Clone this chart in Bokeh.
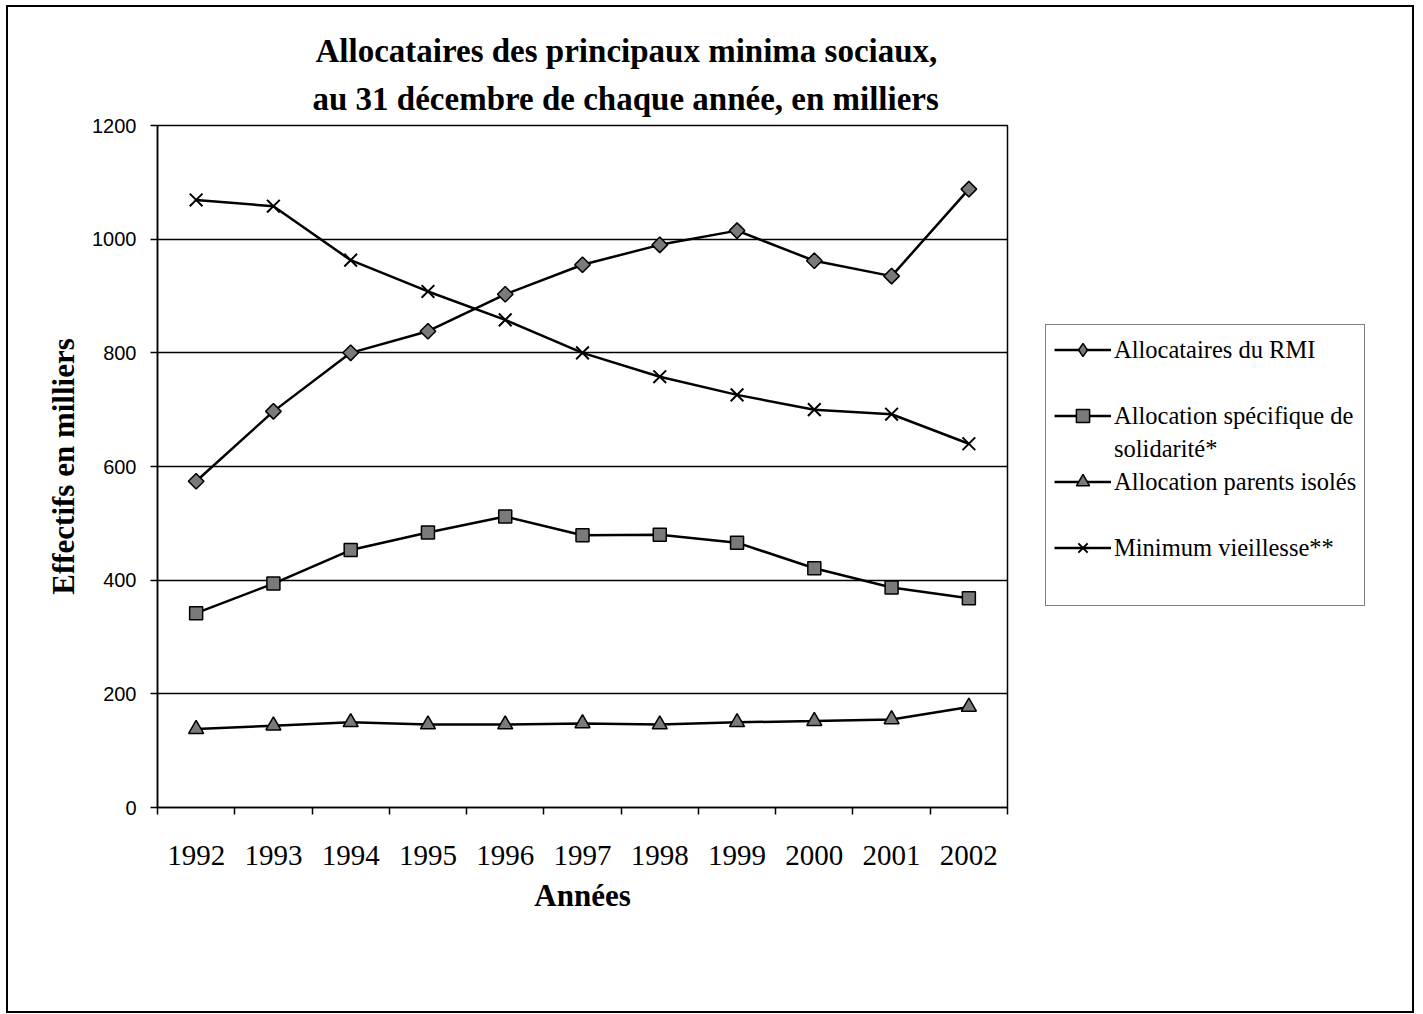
from bokeh.plotting import figure
from bokeh.models import (Range1d, FixedTicker, Legend, LegendItem, Title)
from bokeh.layouts import row
from bokeh.embed import file_html
from bokeh.resources import INLINE
import math

years = [1992, 1993, 1994, 1995, 1996, 1997, 1998, 1999, 2000, 2001, 2002]
rmi = [574, 697, 800, 838, 903, 955, 990, 1015, 962, 935, 1088]
ass = [342, 394, 453, 484, 512, 479, 480, 466, 421, 387, 368]
api = [138, 144, 150, 146, 146, 148, 146, 150, 152, 155, 177]
mv = [1069, 1058, 963, 908, 858, 800, 758, 726, 700, 692, 640]
y_ticks = [0, 200, 400, 600, 800, 1000, 1200]

SERIF = "Liberation Serif"
SANS = "Liberation Sans"

H = 1004
W_MAIN, W_LEG = 1002, 402
p = figure(width=W_MAIN, height=H, output_backend="svg", toolbar_location=None,
           x_range=Range1d(years[0] - 0.5, years[-1] + 0.5),
           y_range=Range1d(0, 1200),
           min_border_left=149, min_border_right=3,
           min_border_top=118, min_border_bottom=204)
p.background_fill_color = "white"
p.border_fill_color = "white"
p.outline_line_color = "black"
p.outline_line_width = 1.5

# title, two lines
p.title.text = "Allocataires des principaux minima sociaux,"
p.title.align = "left"
p.title.offset = 158
p.title.text_font = SERIF
p.title.text_font_style = "bold"
p.title.text_font_size = "33px"
p.title.text_color = "black"
p.title.standoff = 2
t2 = Title(text="au 31 décembre de chaque année, en milliers", align="left",
           offset=155, text_font=SERIF, text_font_style="bold",
           text_font_size="33px", text_color="black", standoff=18)
p.add_layout(t2, "above")

# axes
p.xaxis.ticker = FixedTicker(ticks=years,
                             minor_ticks=[y - 0.5 for y in years] + [years[-1] + 0.5])
p.xaxis.major_label_overrides = {y: str(y) for y in years}
p.xaxis.major_tick_line_color = None
p.xaxis.major_tick_out = 7
p.xaxis.major_tick_in = 0
p.xaxis.minor_tick_line_color = "black"
p.xaxis.minor_tick_out = 7
p.xaxis.minor_tick_in = 0
p.xaxis.minor_tick_line_width = 1.5
p.xaxis.major_label_text_font = SERIF
p.xaxis.major_label_text_font_size = "29px"
p.xaxis.major_label_text_color = "black"
p.xaxis.major_label_standoff = 31
p.xaxis.axis_label = "Années"
p.xaxis.axis_label_text_font = SERIF
p.xaxis.axis_label_text_font_style = "bold"
p.xaxis.axis_label_text_font_size = "31px"
p.xaxis.axis_label_text_color = "black"
p.xaxis.axis_label_standoff = 10

p.yaxis.ticker = FixedTicker(ticks=y_ticks)
p.yaxis.major_tick_out = 7
p.yaxis.major_tick_in = 0
p.yaxis.major_tick_line_color = "black"
p.yaxis.major_tick_line_width = 1.5
p.yaxis.minor_tick_line_color = None
p.yaxis.major_label_text_font = SANS
p.yaxis.major_label_text_font_size = "20px"
p.yaxis.major_label_text_color = "black"
p.yaxis.major_label_standoff = 14
p.yaxis.axis_label = "Effectifs en milliers"
p.yaxis.axis_label_text_font = SERIF
p.yaxis.axis_label_text_font_style = "bold"
p.yaxis.axis_label_text_font_size = "31px"
p.yaxis.axis_label_text_color = "black"
p.yaxis.axis_label_standoff = 8

for ax in (p.xaxis, p.yaxis):
    ax.axis_line_color = "black"
    ax.axis_line_width = 1.5

p.xgrid.grid_line_color = None
p.ygrid.ticker = FixedTicker(ticks=y_ticks)
p.ygrid.grid_line_color = "black"
p.ygrid.grid_line_width = 1.5

# series
LW = 2.5
GRAY = "#7a7a7a"
LINE = dict(line_color="black", line_width=LW)
MK = dict(fill_color=GRAY, line_color="black", line_width=1.5)

p.line(years, rmi, **LINE)
p.scatter(years, rmi, marker="square", angle=math.pi / 4, size=11, **MK)
p.line(years, ass, **LINE)
p.scatter(years, ass, marker="square", size=13, **MK)
p.line(years, api, **LINE)
p.scatter(years, api, marker="triangle", size=15, **MK)
p.line(years, mv, **LINE)
p.scatter(years, mv, marker="x", size=18, line_color="black", line_width=2)

# legend panel (separate figure on the right; its ranges keep the
# series out of view, the renderers only provide the legend glyphs)
q = figure(width=W_LEG, height=H, output_backend="svg", toolbar_location=None,
           x_range=Range1d(0, 1), y_range=Range1d(0, 1),
           min_border=0, min_border_left=0, min_border_right=0,
           min_border_top=0, min_border_bottom=0)
q.axis.visible = False
q.grid.visible = False
q.outline_line_color = None
q.background_fill_color = "white"
q.border_fill_color = "white"

g1 = [q.line(years, rmi, **LINE),
      q.scatter(years, rmi, marker="diamond", size=15, **MK)]
g2 = [q.line(years, ass, **LINE),
      q.scatter(years, ass, marker="square", size=13, **MK)]
g3 = [q.line(years, api, **LINE),
      q.scatter(years, api, marker="triangle", size=15, **MK)]
g4 = [q.line(years, mv, **LINE),
      q.scatter(years, mv, marker="x", size=18, line_color="black", line_width=2)]
blank = q.line(years, mv, line_alpha=0)

items = [
    LegendItem(label="Allocataires du RMI", renderers=g1),
    LegendItem(label=" ", renderers=[blank]),
    LegendItem(label="Allocation spécifique de", renderers=g2),
    LegendItem(label="solidarité*", renderers=[blank]),
    LegendItem(label="Allocation parents isolés", renderers=g3),
    LegendItem(label="  ", renderers=[blank]),
    LegendItem(label="Minimum vieillesse**", renderers=g4),
    LegendItem(label="   ", renderers=[blank]),
]
legend = Legend(items=items, location=(35, 201),
                label_text_font=SERIF, label_text_font_size="24.5px",
                label_text_color="black",
                glyph_width=57, glyph_height=33, label_height=33,
                spacing=0, padding=8, margin=0, label_standoff=3,
                border_line_color="black", border_line_width=1.5,
                background_fill_color="white", background_fill_alpha=1)
q.add_layout(legend)

layout = row(p, q, spacing=0,
             styles={"border": "2px solid black", "margin-left": "6px",
                     "margin-top": "5px"})

open("out.html", "w").write(file_html(layout, INLINE))
